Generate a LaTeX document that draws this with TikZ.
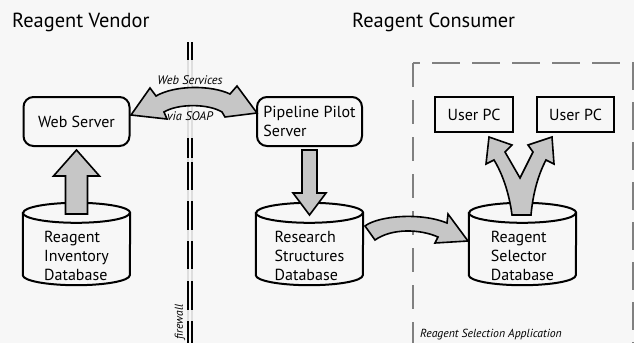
\documentclass[tikz,border=0pt]{standalone}
\usepackage{fontspec}
\setmainfont{PT Sans}

\definecolor{bgcol}{HTML}{F7F7F7}
\definecolor{arrowfill}{HTML}{C6C6C6}
\definecolor{appline}{HTML}{808080}

\tikzset{
  boxtext/.style={font=\fontsize{16}{19}\selectfont, align=left},
  server/.style={boxtext, draw, line width=2pt, rounded corners=10pt, minimum width=106pt, minimum height=49pt},
  userpc/.style={boxtext, draw, line width=2pt, minimum width=78pt, minimum height=35pt},
  database/.style={inner sep=0pt, minimum width=107pt, minimum height=82pt},
  dbtext/.style={boxtext, inner sep=0pt},
  fatarrow/.style={draw, line width=1.6pt, fill=arrowfill, line join=miter},
  heading/.style={font=\fontsize{20.4}{24}\selectfont, anchor=base west, inner sep=0pt},
  note/.style={font=\fontsize{12.4}{14}\selectfont\itshape, inner sep=0pt},
}

\begin{document}
\begin{tikzpicture}[x=1pt,y=-1pt]
\useasboundingbox (0,0) rectangle (634,343);
\fill[bgcol] (0,0) rectangle (634,343);

\node[heading] (vendor) at (12,27) {Reagent Vendor};
\node[heading] (consumer) at (352,27) {Reagent Consumer};

% firewall
\draw[black!13, line width=1.8pt, double=bgcol, double distance=2pt] (190,42) -- (190,343);
\foreach \a/\b in {42/60,138/158,162/190,201/230,241/269,281/310,321/343}
  \draw[line width=1.8pt, double=bgcol, double distance=2pt] (190,\a) -- (190,\b);
\node[note, rotate=90, font=\fontsize{11.5}{13}\selectfont\itshape] (firewall) at (180,322) {firewall};

% application frame
\draw[appline, line width=2.5pt, dash pattern=on 28pt off 12pt, dash phase=21pt] (413,63) -- (633,63) -- (633,343);
\draw[appline, line width=2.5pt, dash pattern=on 24pt off 13pt] (413,63) -- (413,343);
\node[note, anchor=base west, font=\fontsize{11.7}{13}\selectfont\itshape] (app) at (420,337) {Reagent Selection Application};

\node[server] (ws) at (76.5,121.5) {Web Server};
\node[server, minimum width=105pt] (pps) at (309.5,121.5) {Pipeline Pilot\\Server};
\node[userpc] (pc1) at (474,114.5) {User PC};
\node[userpc, minimum width=77pt] (pc2) at (575.5,114.5) {User PC};

% databases
\node[database] (rid) at (76.5,244) {};
\node[database] (rsd) at (309.5,244) {};
\node[database] (rsel) at (522.5,244) {};
\foreach \n in {rid,rsd,rsel}{
  \draw[line width=2pt, fill=bgcol] ([yshift=-10pt]\n.north west) -- ([yshift=10pt]\n.south west)
    arc[start angle=180, end angle=360, x radius=53.5pt, y radius=10pt] -- ([yshift=-10pt]\n.north east)
    arc[start angle=0, end angle=180, x radius=53.5pt, y radius=10pt] -- cycle;
  \draw[line width=2pt] ([yshift=-10pt]\n.north west) arc[start angle=180, end angle=360, x radius=53.5pt, y radius=10pt];
}
\node[dbtext] (rid-text) at ([yshift=-12pt]rid.center) {Reagent\\Inventory\\Database};
\node[dbtext] (rsd-text) at ([yshift=-12pt]rsd.center) {Research\\Structures\\Database};
\node[dbtext] (rsel-text) at ([yshift=-12pt]rsel.center) {Reagent\\Selector\\Database};

% block arrows
\draw[fatarrow] (65.5,214) -- (65.5,176) -- (53.5,176) -- (76.5,150) -- (99.5,176) -- (87.5,176) -- (87.5,214) -- cycle;
\draw[fatarrow] (302,150) -- (302,193) -- (293,193) -- (309.5,215) -- (326,193) -- (317,193) -- (317,150) -- cycle;
\draw[fatarrow] (131,115) -- (150,88) -- (156,96) .. controls (175,85) and (211,85) .. (230,94)
  -- (237,86) -- (257,113) -- (225,117) -- (222,112) .. controls (208,103.5) and (178,103.5) .. (164,112)
  -- (167,119) -- cycle;
\draw[fatarrow] (365,226) .. controls (378,216) and (420,212) .. (447,223) -- (448,214) -- (468,241)
  -- (435,243) -- (438,237) .. controls (420,229) and (392,228) .. (375,240) -- cycle;
\draw[fatarrow] (512,215) .. controls (509,192) and (502,173) .. (494,160) -- (486,164) -- (489,137)
  -- (512,145) -- (505,152) -- (520,178) -- (533,152) -- (528,145) -- (552,137) -- (554,164)
  -- (546,160) .. controls (539,173) and (533,192) .. (531,215) -- cycle;

\node[note] (ws-label) at (190,80) {Web Services};
\node[note] (soap-label) at (190,116) {via SOAP};
\end{tikzpicture}
\end{document}
